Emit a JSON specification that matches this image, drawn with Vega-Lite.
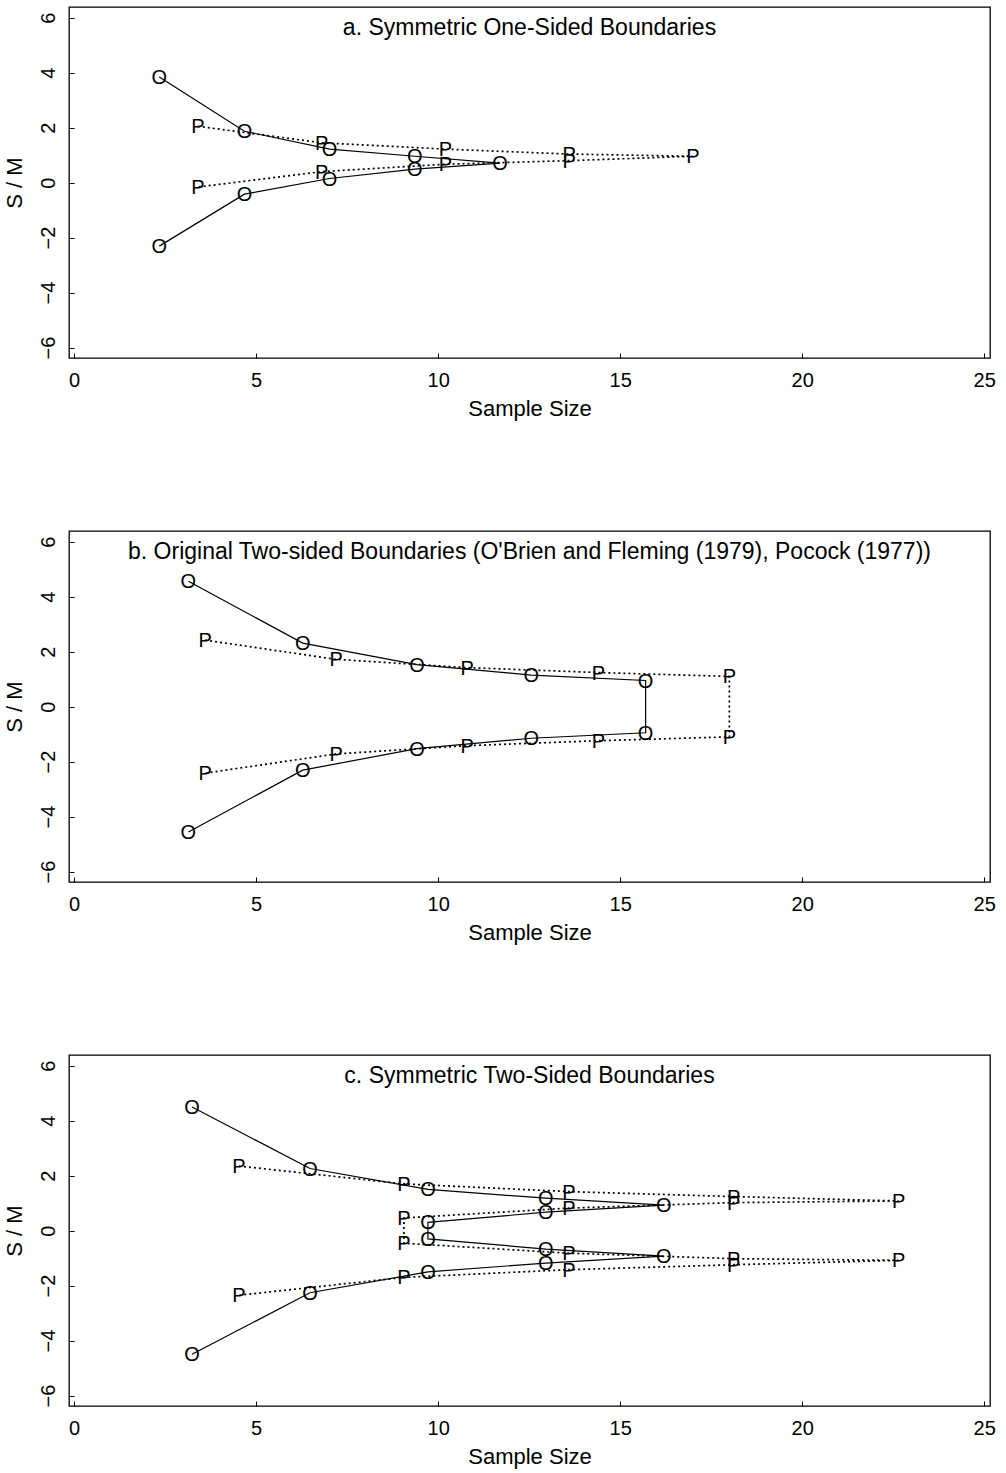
{
  "$schema": "https://vega.github.io/schema/vega-lite/v6.json",
  "background": "white",
  "padding": {"left": 2, "top": 6, "right": 10, "bottom": 2},
  "config": {
    "view": {"stroke": "black", "strokeWidth": 1.3},
    "font": "Liberation Sans",
    "axis": {
      "domain": false, "grid": false, "tickColor": "black", "tickSize": -5, "tickWidth": 1,
      "labelColor": "black", "labelFont": "Liberation Sans", "labelFontSize": 20,
      "titleColor": "black", "titleFont": "Liberation Sans", "titleFontSize": 22, "titleFontWeight": "normal"
    },
    "title": {"font": "Liberation Sans", "fontSize": 23, "fontWeight": "normal", "color": "black", "frame": "group", "anchor": "middle", "baseline": "middle", "offset": -33}
  },
  "datasets": {
    "pts": [
      {"panel": "a", "s": "O", "o": 1, "x": 2.34, "y": 3.84},
      {"panel": "a", "s": "O", "o": 2, "x": 4.68, "y": 1.87},
      {"panel": "a", "s": "O", "o": 3, "x": 7.02, "y": 1.22},
      {"panel": "a", "s": "O", "o": 4, "x": 9.36, "y": 0.96},
      {"panel": "a", "s": "O", "o": 5, "x": 11.7, "y": 0.71},
      {"panel": "a", "s": "O", "o": 6, "x": 9.36, "y": 0.49},
      {"panel": "a", "s": "O", "o": 7, "x": 7.02, "y": 0.15},
      {"panel": "a", "s": "O", "o": 8, "x": 4.68, "y": -0.42},
      {"panel": "a", "s": "O", "o": 9, "x": 2.34, "y": -2.31},
      {"panel": "a", "s": "P", "o": 1, "x": 3.4, "y": 2.05},
      {"panel": "a", "s": "P", "o": 2, "x": 6.8, "y": 1.45},
      {"panel": "a", "s": "P", "o": 3, "x": 10.2, "y": 1.22},
      {"panel": "a", "s": "P", "o": 4, "x": 13.6, "y": 1.04},
      {"panel": "a", "s": "P", "o": 5, "x": 17.0, "y": 0.96},
      {"panel": "a", "s": "P", "o": 6, "x": 13.6, "y": 0.8},
      {"panel": "a", "s": "P", "o": 7, "x": 10.2, "y": 0.67},
      {"panel": "a", "s": "P", "o": 8, "x": 6.8, "y": 0.4},
      {"panel": "a", "s": "P", "o": 9, "x": 3.4, "y": -0.16},
      {"panel": "b", "s": "O", "o": 1, "x": 3.14, "y": 4.56},
      {"panel": "b", "s": "O", "o": 2, "x": 6.28, "y": 2.31},
      {"panel": "b", "s": "O", "o": 3, "x": 9.42, "y": 1.53},
      {"panel": "b", "s": "O", "o": 4, "x": 12.56, "y": 1.15},
      {"panel": "b", "s": "O", "o": 5, "x": 15.7, "y": 0.95},
      {"panel": "b", "s": "O", "o": 6, "x": 15.7, "y": -0.95},
      {"panel": "b", "s": "O", "o": 7, "x": 12.56, "y": -1.15},
      {"panel": "b", "s": "O", "o": 8, "x": 9.42, "y": -1.53},
      {"panel": "b", "s": "O", "o": 9, "x": 6.28, "y": -2.31},
      {"panel": "b", "s": "O", "o": 10, "x": 3.14, "y": -4.56},
      {"panel": "b", "s": "P", "o": 1, "x": 3.6, "y": 2.42},
      {"panel": "b", "s": "P", "o": 2, "x": 7.2, "y": 1.72},
      {"panel": "b", "s": "P", "o": 3, "x": 10.8, "y": 1.42},
      {"panel": "b", "s": "P", "o": 4, "x": 14.4, "y": 1.24},
      {"panel": "b", "s": "P", "o": 5, "x": 18.0, "y": 1.1},
      {"panel": "b", "s": "P", "o": 6, "x": 18.0, "y": -1.1},
      {"panel": "b", "s": "P", "o": 7, "x": 14.4, "y": -1.24},
      {"panel": "b", "s": "P", "o": 8, "x": 10.8, "y": -1.42},
      {"panel": "b", "s": "P", "o": 9, "x": 7.2, "y": -1.72},
      {"panel": "b", "s": "P", "o": 10, "x": 3.6, "y": -2.42},
      {"panel": "c", "s": "O", "o": 1, "x": 3.24, "y": 4.5},
      {"panel": "c", "s": "O", "o": 2, "x": 6.48, "y": 2.26},
      {"panel": "c", "s": "O", "o": 3, "x": 9.72, "y": 1.5},
      {"panel": "c", "s": "O", "o": 4, "x": 12.96, "y": 1.18},
      {"panel": "c", "s": "O", "o": 5, "x": 16.2, "y": 0.93},
      {"panel": "c", "s": "O", "o": 6, "x": 12.96, "y": 0.67},
      {"panel": "c", "s": "O", "o": 7, "x": 9.72, "y": 0.3},
      {"panel": "c", "s": "O", "o": 8, "x": 9.72, "y": -0.3},
      {"panel": "c", "s": "O", "o": 9, "x": 12.96, "y": -0.67},
      {"panel": "c", "s": "O", "o": 10, "x": 16.2, "y": -0.93},
      {"panel": "c", "s": "O", "o": 11, "x": 12.96, "y": -1.18},
      {"panel": "c", "s": "O", "o": 12, "x": 9.72, "y": -1.5},
      {"panel": "c", "s": "O", "o": 13, "x": 6.48, "y": -2.26},
      {"panel": "c", "s": "O", "o": 14, "x": 3.24, "y": -4.5},
      {"panel": "c", "s": "P", "o": 1, "x": 4.53, "y": 2.35},
      {"panel": "c", "s": "P", "o": 2, "x": 9.06, "y": 1.7},
      {"panel": "c", "s": "P", "o": 3, "x": 13.59, "y": 1.42},
      {"panel": "c", "s": "P", "o": 4, "x": 18.12, "y": 1.24},
      {"panel": "c", "s": "P", "o": 5, "x": 22.65, "y": 1.08},
      {"panel": "c", "s": "P", "o": 6, "x": 18.12, "y": 1.02},
      {"panel": "c", "s": "P", "o": 7, "x": 13.59, "y": 0.82},
      {"panel": "c", "s": "P", "o": 8, "x": 9.06, "y": 0.46},
      {"panel": "c", "s": "P", "o": 9, "x": 9.06, "y": -0.46},
      {"panel": "c", "s": "P", "o": 10, "x": 13.59, "y": -0.82},
      {"panel": "c", "s": "P", "o": 11, "x": 18.12, "y": -1.02},
      {"panel": "c", "s": "P", "o": 12, "x": 22.65, "y": -1.08},
      {"panel": "c", "s": "P", "o": 13, "x": 18.12, "y": -1.24},
      {"panel": "c", "s": "P", "o": 14, "x": 13.59, "y": -1.42},
      {"panel": "c", "s": "P", "o": 15, "x": 9.06, "y": -1.7},
      {"panel": "c", "s": "P", "o": 16, "x": 4.53, "y": -2.35}
    ]
  },
  "spacing": 110,
  "vconcat": [
    {
      "title": {"text": "a. Symmetric One-Sided Boundaries"},
      "width": 921, "height": 351,
      "data": {"name": "pts"},
      "transform": [{"filter": "datum.panel === 'a'"}],
      "encoding": {
        "x": {"field": "x", "type": "quantitative", "scale": {"domain": [-0.14, 25.16], "nice": false, "zero": false},
              "axis": {"values": [0, 5, 10, 15, 20, 25], "title": "Sample Size", "labelPadding": 17, "titlePadding": 8}},
        "y": {"field": "y", "type": "quantitative", "scale": {"domain": [-6.38, 6.39], "nice": false, "zero": false},
              "axis": {"values": [-6, -4, -2, 0, 2, 4, 6], "title": "S / M", "labelAngle": -90, "labelAlign": "center", "labelBaseline": "bottom", "labelPadding": 16, "titlePadding": 12}}
      },
      "layer": [
        {"transform": [{"filter": "datum.s === 'O'"}], "mark": {"type": "line", "color": "black", "strokeWidth": 1.2}, "encoding": {"order": {"field": "o", "type": "quantitative"}}},
        {"transform": [{"filter": "datum.s === 'P'"}], "mark": {"type": "line", "color": "black", "strokeWidth": 1.7, "strokeDash": [2, 3]}, "encoding": {"order": {"field": "o", "type": "quantitative"}}},
        {"mark": {"type": "text", "font": "Liberation Sans", "fontSize": 20, "baseline": "middle", "align": "center", "color": "black", "dy": 1}, "encoding": {"text": {"field": "s", "type": "nominal"}}}
      ]
    },
    {
      "title": {"text": "b. Original Two-sided Boundaries (O'Brien and Fleming (1979), Pocock (1977))"},
      "width": 921, "height": 351,
      "data": {"name": "pts"},
      "transform": [{"filter": "datum.panel === 'b'"}],
      "encoding": {
        "x": {"field": "x", "type": "quantitative", "scale": {"domain": [-0.14, 25.16], "nice": false, "zero": false},
              "axis": {"values": [0, 5, 10, 15, 20, 25], "title": "Sample Size", "labelPadding": 17, "titlePadding": 8}},
        "y": {"field": "y", "type": "quantitative", "scale": {"domain": [-6.38, 6.39], "nice": false, "zero": false},
              "axis": {"values": [-6, -4, -2, 0, 2, 4, 6], "title": "S / M", "labelAngle": -90, "labelAlign": "center", "labelBaseline": "bottom", "labelPadding": 16, "titlePadding": 12}}
      },
      "layer": [
        {"transform": [{"filter": "datum.s === 'O'"}], "mark": {"type": "line", "color": "black", "strokeWidth": 1.2}, "encoding": {"order": {"field": "o", "type": "quantitative"}}},
        {"transform": [{"filter": "datum.s === 'P'"}], "mark": {"type": "line", "color": "black", "strokeWidth": 1.7, "strokeDash": [2, 3]}, "encoding": {"order": {"field": "o", "type": "quantitative"}}},
        {"mark": {"type": "text", "font": "Liberation Sans", "fontSize": 20, "baseline": "middle", "align": "center", "color": "black", "dy": 1}, "encoding": {"text": {"field": "s", "type": "nominal"}}}
      ]
    },
    {
      "title": {"text": "c. Symmetric Two-Sided Boundaries"},
      "width": 921, "height": 351,
      "data": {"name": "pts"},
      "transform": [{"filter": "datum.panel === 'c'"}],
      "encoding": {
        "x": {"field": "x", "type": "quantitative", "scale": {"domain": [-0.14, 25.16], "nice": false, "zero": false},
              "axis": {"values": [0, 5, 10, 15, 20, 25], "title": "Sample Size", "labelPadding": 17, "titlePadding": 8}},
        "y": {"field": "y", "type": "quantitative", "scale": {"domain": [-6.38, 6.39], "nice": false, "zero": false},
              "axis": {"values": [-6, -4, -2, 0, 2, 4, 6], "title": "S / M", "labelAngle": -90, "labelAlign": "center", "labelBaseline": "bottom", "labelPadding": 16, "titlePadding": 12}}
      },
      "layer": [
        {"transform": [{"filter": "datum.s === 'O'"}], "mark": {"type": "line", "color": "black", "strokeWidth": 1.2}, "encoding": {"order": {"field": "o", "type": "quantitative"}}},
        {"transform": [{"filter": "datum.s === 'P'"}], "mark": {"type": "line", "color": "black", "strokeWidth": 1.7, "strokeDash": [2, 3]}, "encoding": {"order": {"field": "o", "type": "quantitative"}}},
        {"mark": {"type": "text", "font": "Liberation Sans", "fontSize": 20, "baseline": "middle", "align": "center", "color": "black", "dy": 1}, "encoding": {"text": {"field": "s", "type": "nominal"}}}
      ]
    }
  ]
}
